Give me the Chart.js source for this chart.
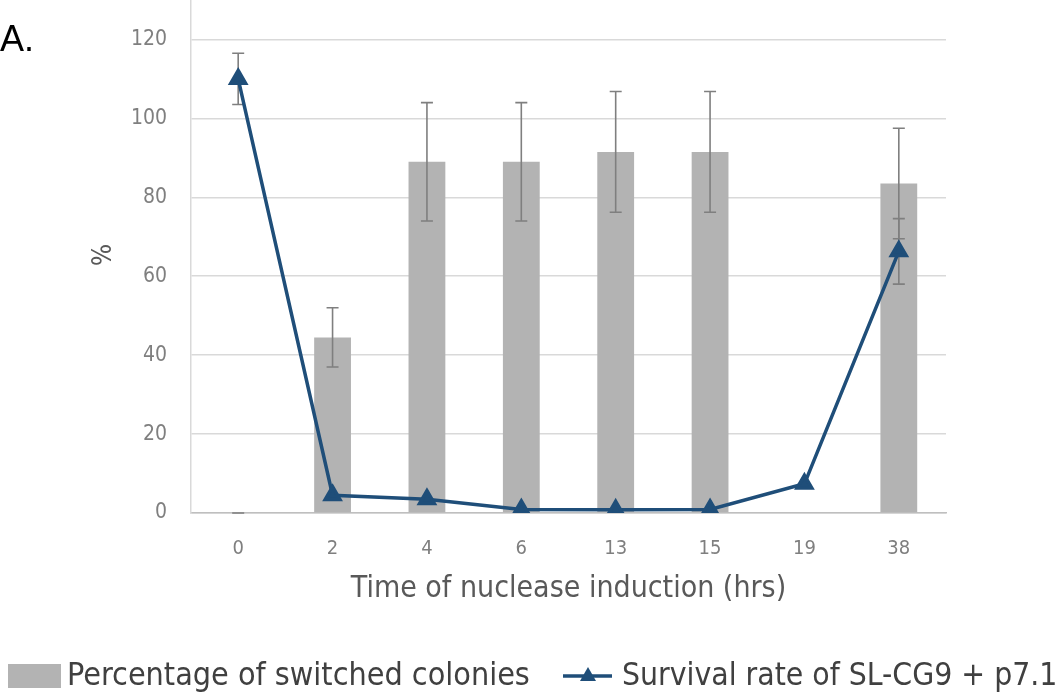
<!DOCTYPE html>
<html>
<head>
<meta charset="utf-8">
<script src="https://cdn.jsdelivr.net/npm/chart.js@4.4.1/dist/chart.umd.min.js"></script>
<style>
  html, body { margin: 0; padding: 0; background: #fff; overflow: hidden; }
  canvas { display: block; }
</style>
</head>
<body>
<canvas id="chart" width="1059" height="696"></canvas>
<script>
const hours = ['0', '2', '4', '6', '13', '15', '19', '38'];
const switched = [0, 44.5, 89, 89, 91.5, 91.5, 0, 83.5];
const switchedErr = [0, 7.5, 15, 15, 15.3, 15.3, null, 14];
const survival = [110, 4.5, 3.5, 0.9, 0.8, 0.9, 7.4, 66.3];
const survivalErr = [6.5, null, null, null, null, null, null, 8.3];
const yTicks = [0, 20, 40, 60, 80, 100, 120];

const FONT = '"Liberation Sans Narrow", "DejaVu Sans Condensed", "Liberation Sans", sans-serif';
const BAR_COLOR = '#b3b3b3';
const LINE_COLOR = '#1f4e79';
const ERR_COLOR = '#7f7f7f';

function drawErrors(chart, dsIndex, errs) {
  const ctx = chart.ctx, y = chart.scales.y;
  const meta = chart.getDatasetMeta(dsIndex);
  const vals = chart.data.datasets[dsIndex].data;
  ctx.save();
  ctx.strokeStyle = ERR_COLOR; ctx.lineWidth = 1.6;
  meta.data.forEach((el, i) => {
    if (errs[i] == null) return;
    const x = el.x, top = y.getPixelForValue(vals[i] + errs[i]), bot = y.getPixelForValue(vals[i] - errs[i]);
    ctx.beginPath();
    ctx.moveTo(x, top); ctx.lineTo(x, bot);
    ctx.moveTo(x - 6, top); ctx.lineTo(x + 6, top);
    ctx.moveTo(x - 6, bot); ctx.lineTo(x + 6, bot);
    ctx.stroke();
  });
  ctx.restore();
}

const extras = {
  id: 'extras',
  afterDatasetDraw(chart, args) {
    if (args.index === 0) drawErrors(chart, 0, switchedErr);
  },
  beforeDatasetDraw(chart, args) {
    if (args.index === 1) drawErrors(chart, 1, survivalErr);
  },
  afterDraw(chart) {
    const ctx = chart.ctx, area = chart.chartArea;
    ctx.save();
    ctx.fillStyle = '#000';
    ctx.font = '36px "Liberation Sans", sans-serif';
    ctx.textBaseline = 'middle';
    ctx.fillText('A.', 0, 41);

    ctx.fillStyle = '#595959';
    ctx.font = '26px ' + FONT;
    ctx.save();
    ctx.translate(104, 255);
    ctx.rotate(-Math.PI / 2);
    ctx.textAlign = 'center';
    ctx.fillText('%', 0, 0);
    ctx.restore();

    ctx.font = '30px ' + FONT;
    ctx.textAlign = 'center';
    ctx.fillText('Time of nuclease induction (hrs)', (area.left + area.right) / 2, 589);

    // legend
    ctx.textAlign = 'left';
    ctx.font = '32px ' + FONT;
    ctx.fillStyle = BAR_COLOR;
    ctx.fillRect(8, 664, 53, 24);
    ctx.fillStyle = '#404040';
    ctx.fillText('Percentage of switched colonies', 67, 677);
    ctx.strokeStyle = LINE_COLOR; ctx.lineWidth = 3.5;
    ctx.beginPath(); ctx.moveTo(563, 676); ctx.lineTo(612, 676); ctx.stroke();
    ctx.fillStyle = LINE_COLOR;
    ctx.beginPath(); ctx.moveTo(588, 667); ctx.lineTo(596, 681); ctx.lineTo(580, 681); ctx.closePath(); ctx.fill();
    ctx.fillStyle = '#404040';
    ctx.font = '31.6px ' + FONT;
    ctx.fillText('Survival rate of SL-CG9 + p7.1', 622, 677);
    ctx.restore();
  }
};

new Chart(document.getElementById('chart'), {
  type: 'bar',
  data: {
    labels: hours,
    datasets: [
      { type: 'bar', label: 'Percentage of switched colonies', data: switched, backgroundColor: BAR_COLOR,
        barPercentage: 0.39, categoryPercentage: 1, order: 1 },
      { type: 'line', label: 'Survival rate of SL-CG9 + p7.1', data: survival, borderColor: LINE_COLOR,
        backgroundColor: LINE_COLOR, borderWidth: 3.5, tension: 0, pointStyle: 'triangle', pointRadius: 8.5,
        pointBackgroundColor: LINE_COLOR, pointBorderColor: LINE_COLOR, order: 0 }
    ]
  },
  options: {
    responsive: false,
    animation: false,
    devicePixelRatio: 1,
    layout: { autoPadding: false, padding: { left: 0, right: 113, top: 0, bottom: 0 } },
    plugins: { legend: { display: false }, tooltip: { enabled: false } },
    scales: {
      x: {
        grid: { display: false, drawTicks: false },
        border: { color: '#bfbfbf', width: 1.5 },
        ticks: { color: '#7f7f7f', font: { family: FONT, size: 20 }, padding: 24 },
        afterFit(s) { s.height = 183; s.paddingLeft = 0; s.paddingRight = 0; }
      },
      y: {
        min: 0, max: 130,
        afterBuildTicks(s) { s.ticks = yTicks.map(v => ({ value: v })); },
        grid: { color: '#d9d9d9', lineWidth: 1.5, drawTicks: false },
        border: { color: '#d9d9d9', width: 1.5 },
        ticks: { color: '#7f7f7f', font: { family: FONT, size: 21 }, padding: 24 },
        afterFit(s) { s.width = 191; s.paddingTop = 0; s.paddingBottom = 0; }
      }
    }
  },
  plugins: [extras]
});
</script>
</body>
</html>
